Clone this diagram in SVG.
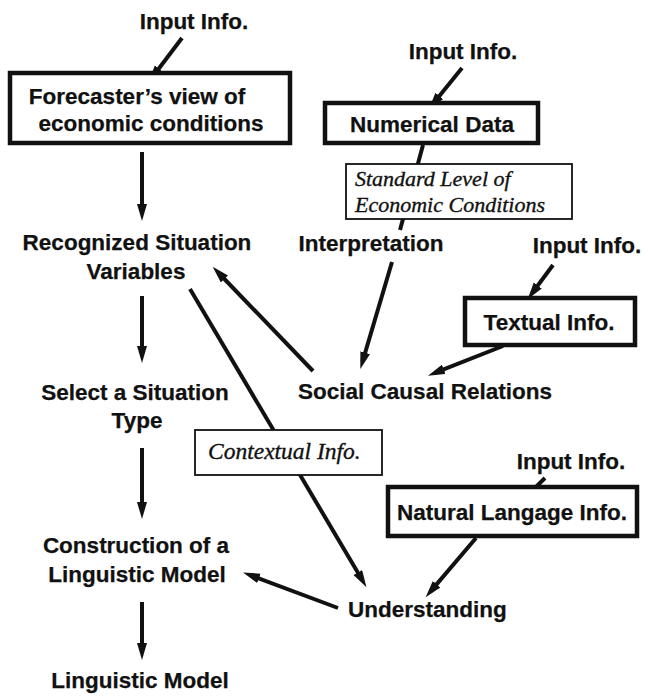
<svg xmlns="http://www.w3.org/2000/svg" width="648" height="696" viewBox="0 0 648 696">
  <style>
    .lbl { font-family: "Liberation Sans", Arial, sans-serif; font-weight: bold; font-size: 22.5px; fill: #111; stroke: #111; stroke-width: 0.25; }
    .it { font-family: "Liberation Serif", "Times New Roman", serif; font-style: italic; font-size: 22px; fill: #111; stroke: #111; stroke-width: 0.35; }
    .it.big { font-size: 23.5px; }
    .heavy { fill: #fff; stroke: #111; stroke-width: 4.5; }
    .light { fill: #fff; stroke: #111; stroke-width: 1.8; }
    .edge { stroke: #111; stroke-width: 4; fill: none; }
    .arrow { marker-end: url(#head); }
  </style>
  <defs>
    <marker id="head" markerUnits="userSpaceOnUse" markerWidth="18" markerHeight="11" refX="9" refY="5" orient="auto">
      <path d="M0,0 L17,5 L0,10 Z" fill="#111"/>
    </marker>
  </defs>

  <rect width="648" height="696" fill="#fff"/>

  <!-- connectors (drawn first so boxes sit on top) -->
  <g id="connectors">
    <line class="edge arrow" x1="182" y1="38" x2="153.4" y2="75.8"/>
    <line class="edge arrow" x1="142" y1="152" x2="142" y2="213"/>
    <line class="edge arrow" x1="142" y1="296" x2="142" y2="355"/>
    <line class="edge arrow" x1="142" y1="448" x2="142" y2="511"/>
    <line class="edge arrow" x1="142" y1="602" x2="142" y2="652"/>
    <line class="edge arrow" x1="462" y1="68" x2="433.7" y2="103"/>
    <line class="edge" x1="423" y1="145" x2="400" y2="230"/>
    <line class="edge arrow" x1="392" y1="262" x2="362.6" y2="361.4"/>
    <line class="edge arrow" x1="553" y1="265" x2="532.4" y2="292.8"/>
    <line class="edge arrow" x1="503" y1="346" x2="435.4" y2="372.7"/>
    <line class="edge arrow" x1="313" y1="371" x2="218.2" y2="272.5"/>
    <line class="edge arrow" x1="190" y1="289" x2="362.4" y2="580.3"/>
    <line class="edge arrow" x1="545" y1="478" x2="513.8" y2="508.6"/>
    <line class="edge arrow" x1="476" y1="538" x2="430.8" y2="591.1"/>
    <line class="edge arrow" x1="338" y1="608" x2="250.5" y2="575.2"/>
  </g>

  <g id="input-forecast">
    <text class="lbl" x="194" y="29" text-anchor="middle">Input Info.</text>
  </g>
  <g id="forecaster-view">
    <rect class="heavy" x="10" y="73" width="280" height="70"/>
    <text class="lbl" x="137" y="104" text-anchor="middle">Forecaster’s view of</text>
    <text class="lbl" x="151" y="131" text-anchor="middle">economic conditions</text>
  </g>
  <g id="recognized-variables">
    <text class="lbl" x="137" y="250" text-anchor="middle">Recognized Situation</text>
    <text class="lbl" x="136" y="279" text-anchor="middle">Variables</text>
  </g>
  <g id="select-type">
    <text class="lbl" x="135" y="400" text-anchor="middle">Select a Situation</text>
    <text class="lbl" x="137" y="428" text-anchor="middle">Type</text>
  </g>
  <g id="construction">
    <text class="lbl" x="136" y="553" text-anchor="middle">Construction of a</text>
    <text class="lbl" x="137" y="582" text-anchor="middle">Linguistic Model</text>
  </g>
  <g id="linguistic-model">
    <text class="lbl" x="140" y="688" text-anchor="middle">Linguistic Model</text>
  </g>

  <g id="input-numerical">
    <text class="lbl" x="463" y="59" text-anchor="middle">Input Info.</text>
  </g>
  <g id="numerical-data">
    <rect class="heavy" x="325" y="103" width="213" height="40"/>
    <text class="lbl" x="432" y="132" text-anchor="middle">Numerical Data</text>
  </g>
  <g id="standard-level">
    <rect class="light" x="346" y="164" width="226" height="55"/>
    <text class="it" x="355" y="186">Standard Level of</text>
    <text class="it" x="355" y="212">Economic Conditions</text>
  </g>
  <g id="interpretation">
    <text class="lbl" x="371" y="251" text-anchor="middle">Interpretation</text>
  </g>

  <g id="input-textual">
    <text class="lbl" x="587" y="253" text-anchor="middle">Input Info.</text>
  </g>
  <g id="textual-info">
    <rect class="heavy" x="465" y="298" width="170" height="47"/>
    <text class="lbl" x="549" y="330" text-anchor="middle">Textual Info.</text>
  </g>
  <g id="social-causal">
    <text class="lbl" x="425" y="399" text-anchor="middle">Social Causal Relations</text>
  </g>

  <g id="contextual-info">
    <rect class="light" x="195" y="430" width="187" height="45"/>
    <text class="it big" x="208" y="459">Contextual Info.</text>
  </g>

  <g id="input-natural">
    <text class="lbl" x="571" y="469" text-anchor="middle">Input Info.</text>
  </g>
  <g id="natural-language">
    <rect class="heavy" x="388" y="487" width="249" height="49"/>
    <text class="lbl" x="512" y="520" text-anchor="middle">Natural Langage Info.</text>
  </g>
  <g id="understanding">
    <text class="lbl" x="348" y="617">Understanding</text>
  </g>
</svg>
